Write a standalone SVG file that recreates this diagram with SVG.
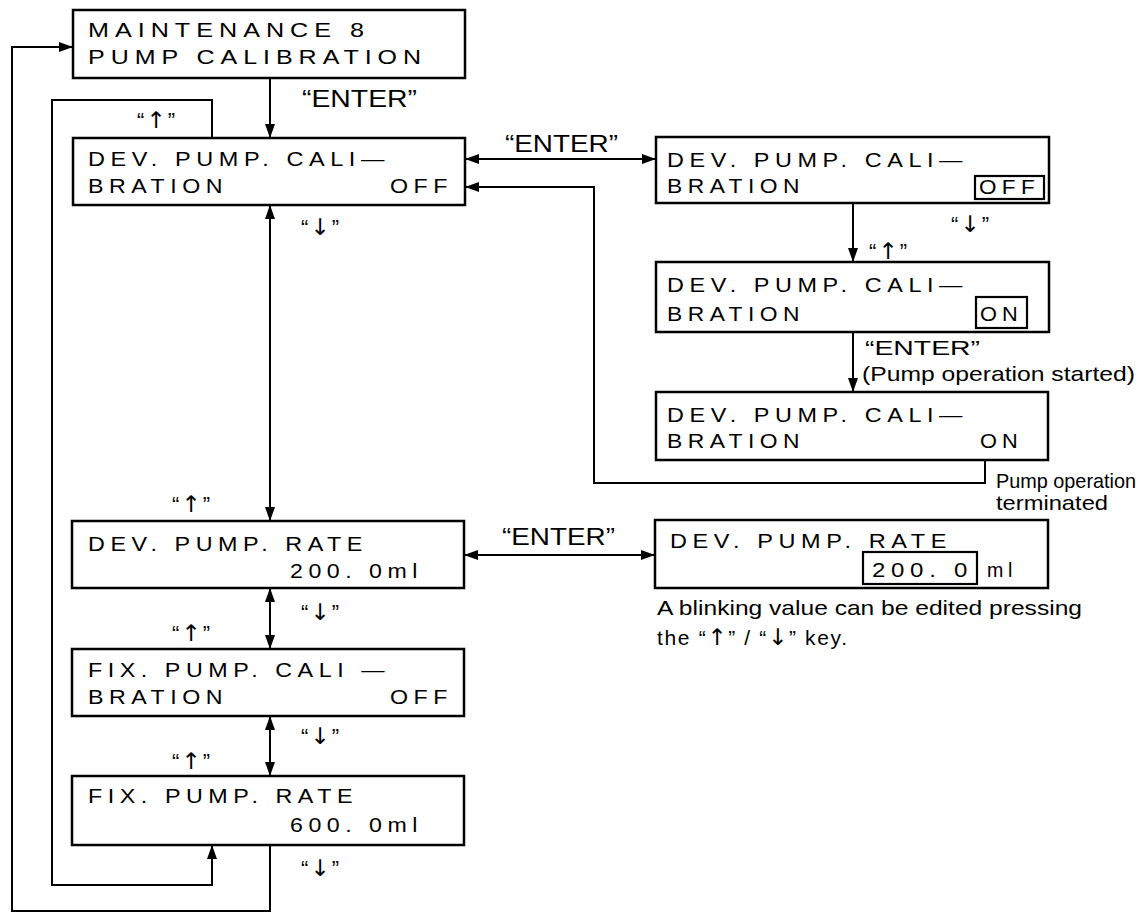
<svg xmlns="http://www.w3.org/2000/svg" width="1145" height="914" viewBox="0 0 1145 914">
<style>
.bg{fill:#ffffff}
.box{fill:#ffffff;stroke:#000;stroke-width:2.5}
.hl{fill:none;stroke:#000;stroke-width:2.2}
.lcd{font-family:"Liberation Sans",Arial,sans-serif;font-size:21px;letter-spacing:5px;fill:#000}
.lbl{font-family:"Liberation Sans",Arial,sans-serif;font-size:21px;fill:#000}
.ent{font-family:"Liberation Sans",Arial,sans-serif;font-size:23px;fill:#000}
.key{font-family:"Liberation Sans",Arial,sans-serif;font-size:22px;letter-spacing:2px;fill:#000}
.ar{font-family:"DejaVu Sans",sans-serif;font-size:23px}
.con{fill:none;stroke:#000;stroke-width:2}
</style>
<defs>
<marker id="ah" viewBox="0 0 14 10" refX="14" refY="5" markerWidth="14" markerHeight="10" markerUnits="userSpaceOnUse" orient="auto-start-reverse">
<path d="M0,0 L14,5 L0,10 z" fill="#000"/>
</marker>
</defs>
<rect class="bg" x="0" y="0" width="1145" height="914"/>

<g id="connectors">
<path class="con" d="M270,78 V138" marker-end="url(#ah)"/>
<path class="con" d="M212,138 V100 H52 V885 H212 V845" marker-end="url(#ah)"/>
<path class="con" d="M270,845 V911 H12 V47 H73" marker-end="url(#ah)"/>
<path class="con" d="M270,205 V521" marker-start="url(#ah)" marker-end="url(#ah)"/>
<path class="con" d="M270,588 V649" marker-start="url(#ah)" marker-end="url(#ah)"/>
<path class="con" d="M270,716 V776" marker-start="url(#ah)" marker-end="url(#ah)"/>
<path class="con" d="M465,159 H656" marker-start="url(#ah)" marker-end="url(#ah)"/>
<path class="con" d="M985,460 V483 H594 V187 H465" marker-end="url(#ah)"/>
<path class="con" d="M853,203 V262" marker-end="url(#ah)"/>
<path class="con" d="M853,332 V392" marker-end="url(#ah)"/>
<path class="con" d="M464,555 H655" marker-start="url(#ah)" marker-end="url(#ah)"/>
</g>

<g id="labels">
<text class="ent" x="302" y="107" textLength="115" lengthAdjust="spacingAndGlyphs">“ENTER”</text>
<text class="ent" x="505" y="152" textLength="113" lengthAdjust="spacingAndGlyphs">“ENTER”</text>
<text class="ent" x="502" y="545" textLength="113" lengthAdjust="spacingAndGlyphs">“ENTER”</text>
<text class="lbl" x="865" y="355" textLength="115" lengthAdjust="spacingAndGlyphs">“ENTER”</text>
<text class="lbl" x="862" y="381" textLength="273" lengthAdjust="spacingAndGlyphs">(Pump operation started)</text>
<text class="lbl" x="996" y="488" textLength="140" lengthAdjust="spacingAndGlyphs">Pump operation</text>
<text class="lbl" x="996" y="510" textLength="112" lengthAdjust="spacingAndGlyphs">terminated</text>
<text class="lbl" x="657" y="615" textLength="425" lengthAdjust="spacingAndGlyphs">A blinking value can be edited pressing</text>
<text class="lbl" x="657" y="645" textLength="190">the “<tspan class="ar">↑</tspan>” / “<tspan class="ar">↓</tspan>” key.</text>
<text class="key" x="157" y="128" text-anchor="middle">“<tspan class="ar">↑</tspan>”</text>
<text class="key" x="321" y="235" text-anchor="middle">“<tspan class="ar">↓</tspan>”</text>
<text class="key" x="192" y="512" text-anchor="middle">“<tspan class="ar">↑</tspan>”</text>
<text class="key" x="321" y="620" text-anchor="middle">“<tspan class="ar">↓</tspan>”</text>
<text class="key" x="192" y="641" text-anchor="middle">“<tspan class="ar">↑</tspan>”</text>
<text class="key" x="321" y="744" text-anchor="middle">“<tspan class="ar">↓</tspan>”</text>
<text class="key" x="192" y="769" text-anchor="middle">“<tspan class="ar">↑</tspan>”</text>
<text class="key" x="321" y="876" text-anchor="middle">“<tspan class="ar">↓</tspan>”</text>
<text class="key" x="971" y="232" text-anchor="middle">“<tspan class="ar">↓</tspan>”</text>
<text class="key" x="889" y="259" text-anchor="middle">“<tspan class="ar">↑</tspan>”</text>
</g>

<g id="maint8">
<rect class="box" x="73" y="10" width="392" height="68"/>
<text class="lcd" x="88" y="37" textLength="282" lengthAdjust="spacingAndGlyphs">MAINTENANCE 8</text>
<text class="lcd" x="88" y="64" textLength="339" lengthAdjust="spacingAndGlyphs">PUMP CALIBRATION</text>
</g>

<g id="dev-cal-off">
<rect class="box" x="73" y="138" width="392" height="67"/>
<text class="lcd" x="88" y="166" textLength="302" lengthAdjust="spacingAndGlyphs">DEV. PUMP. CALI—</text>
<text class="lcd" x="88" y="193" textLength="140" lengthAdjust="spacingAndGlyphs">BRATION</text>
<text class="lcd" x="390" y="193" textLength="63" lengthAdjust="spacingAndGlyphs">OFF</text>
</g>

<g id="dev-rate">
<rect class="box" x="72" y="521" width="392" height="67"/>
<text class="lcd" x="88" y="551" textLength="280" lengthAdjust="spacingAndGlyphs">DEV. PUMP. RATE</text>
<text class="lcd" x="290" y="578" textLength="133" lengthAdjust="spacingAndGlyphs">200. 0ml</text>
</g>

<g id="fix-cal">
<rect class="box" x="72" y="649" width="392" height="67"/>
<text class="lcd" x="88" y="677" textLength="302" lengthAdjust="spacingAndGlyphs">FIX. PUMP. CALI —</text>
<text class="lcd" x="88" y="704" textLength="140" lengthAdjust="spacingAndGlyphs">BRATION</text>
<text class="lcd" x="390" y="704" textLength="63" lengthAdjust="spacingAndGlyphs">OFF</text>
</g>

<g id="fix-rate">
<rect class="box" x="72" y="776" width="392" height="69"/>
<text class="lcd" x="88" y="803" textLength="270" lengthAdjust="spacingAndGlyphs">FIX. PUMP. RATE</text>
<text class="lcd" x="290" y="832" textLength="133" lengthAdjust="spacingAndGlyphs">600. 0ml</text>
</g>

<g id="dev-cal-off-edit">
<rect class="box" x="656" y="137" width="393" height="66"/>
<text class="lcd" x="667" y="167" textLength="301" lengthAdjust="spacingAndGlyphs">DEV. PUMP. CALI—</text>
<text class="lcd" x="667" y="193" textLength="138" lengthAdjust="spacingAndGlyphs">BRATION</text>
<rect class="hl" x="975" y="176" width="69" height="23"/>
<text class="lcd" x="979" y="194" textLength="61" lengthAdjust="spacingAndGlyphs">OFF</text>
</g>

<g id="dev-cal-on-edit">
<rect class="box" x="656" y="262" width="393" height="70"/>
<text class="lcd" x="667" y="292" textLength="301" lengthAdjust="spacingAndGlyphs">DEV. PUMP. CALI—</text>
<text class="lcd" x="667" y="321" textLength="138" lengthAdjust="spacingAndGlyphs">BRATION</text>
<rect class="hl" x="976" y="297" width="51" height="31"/>
<text class="lcd" x="980" y="321" textLength="43" lengthAdjust="spacingAndGlyphs">ON</text>
</g>

<g id="dev-cal-on">
<rect class="box" x="656" y="392" width="392" height="68"/>
<text class="lcd" x="667" y="422" textLength="301" lengthAdjust="spacingAndGlyphs">DEV. PUMP. CALI—</text>
<text class="lcd" x="667" y="448" textLength="138" lengthAdjust="spacingAndGlyphs">BRATION</text>
<text class="lcd" x="980" y="448" textLength="43" lengthAdjust="spacingAndGlyphs">ON</text>
</g>

<g id="dev-rate-edit">
<rect class="box" x="655" y="520" width="393" height="68"/>
<text class="lcd" x="670" y="548" textLength="282" lengthAdjust="spacingAndGlyphs">DEV. PUMP. RATE</text>
<rect class="hl" x="863" y="552" width="114" height="32"/>
<text class="lcd" x="872" y="577" textLength="101" lengthAdjust="spacingAndGlyphs">200. 0</text>
<text class="lcd" x="987" y="577" textLength="30" lengthAdjust="spacingAndGlyphs">ml</text>
</g>
</svg>
